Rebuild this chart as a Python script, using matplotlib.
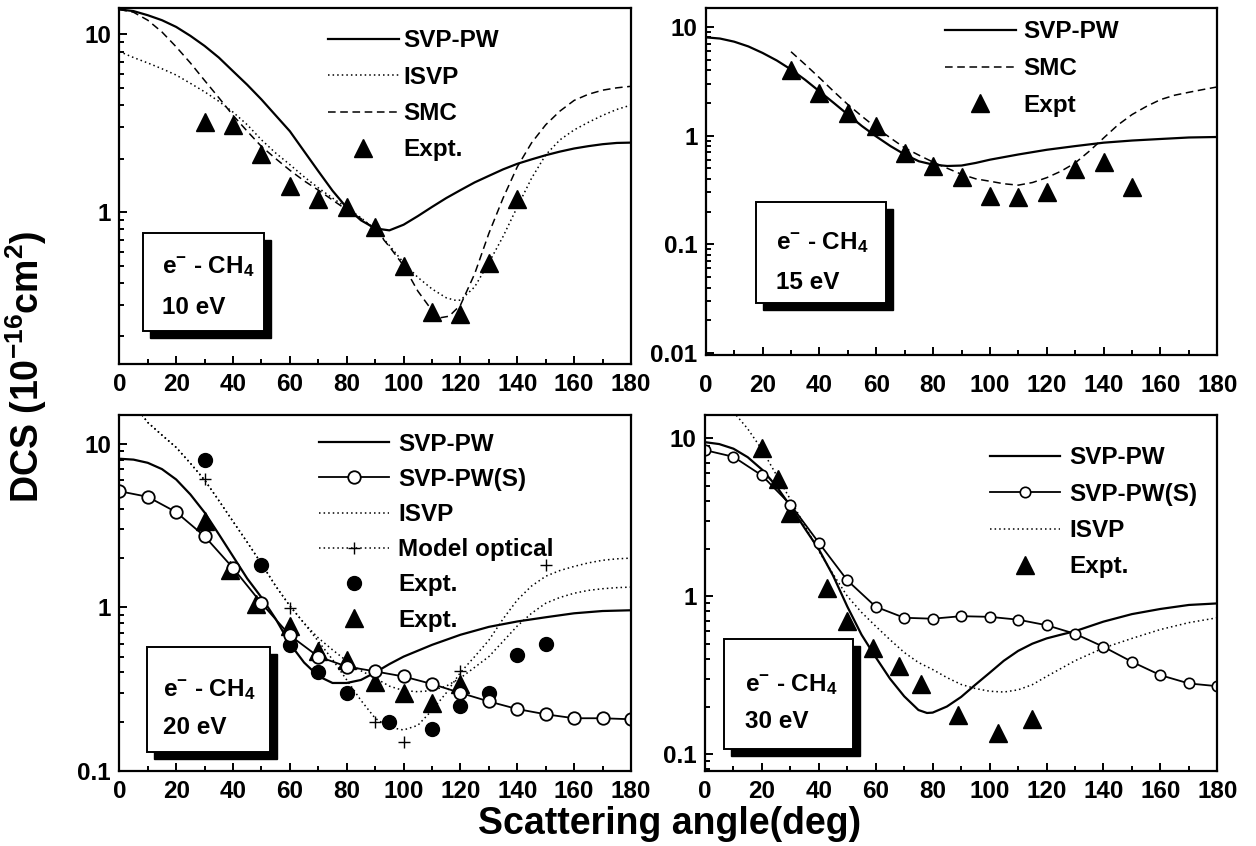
import matplotlib
matplotlib.use('Agg')
import matplotlib.pyplot as plt
from matplotlib.lines import Line2D
from matplotlib.patches import Rectangle
from matplotlib.ticker import FuncFormatter, LogLocator, MultipleLocator, NullFormatter

plt.rcParams['font.family'] = ['Liberation Sans', 'DejaVu Sans']
plt.rcParams['font.weight'] = 'bold'
plt.rcParams['mathtext.fontset'] = 'custom'
plt.rcParams['mathtext.rm'] = 'Liberation Sans:bold'
plt.rcParams['mathtext.it'] = 'Liberation Sans:bold'
plt.rcParams['mathtext.bf'] = 'Liberation Sans:bold'

# ---- 10 eV ----
a10_svp = [0, 5, 10, 15, 20, 25, 30, 35, 40, 45, 50, 55, 60, 65, 70, 75, 80, 85, 90, 95,
           100, 105, 110, 115, 120, 125, 130, 135, 140, 145, 150, 155, 160, 165, 170, 175, 180]
dcs10_svp = [13.8, 13.5, 12.8, 12.0, 11.0, 9.8, 8.6, 7.4, 6.2, 5.2, 4.3, 3.5, 2.85, 2.2, 1.7, 1.32,
             1.06, 0.9, 0.81, 0.79, 0.85, 0.95, 1.07, 1.2, 1.33, 1.47, 1.6, 1.74, 1.87, 1.98,
             2.09, 2.19, 2.28, 2.35, 2.41, 2.45, 2.46]
a10_isvp = [0, 5, 10, 15, 20, 25, 30, 35, 40, 45, 50, 55, 60, 65, 70, 75, 80, 85, 90, 95,
            100, 105, 110, 115, 118, 120, 125, 130, 135, 140, 145, 150, 155, 160, 165, 170, 175, 180]
dcs10_isvp = [8.0, 7.4, 6.9, 6.4, 5.9, 5.3, 4.75, 4.2, 3.65, 3.1, 2.55, 2.15, 1.85, 1.58, 1.37,
              1.2, 1.06, 0.93, 0.8, 0.65, 0.52, 0.43, 0.37, 0.33, 0.32, 0.32, 0.38, 0.52, 0.73,
              1.07, 1.55, 2.1, 2.55, 2.9, 3.2, 3.5, 3.78, 4.0]
a10_smc = [0, 5, 10, 15, 20, 25, 30, 35, 40, 45, 50, 55, 60, 65, 70, 75, 80, 85, 90, 95,
           100, 105, 110, 113, 116, 120, 125, 130, 135, 140, 145, 150, 155, 160, 165, 170, 175, 180]
dcs10_smc = [13.8, 13.3, 12.0, 10.3, 8.5, 6.9, 5.5, 4.4, 3.5, 2.85, 2.34, 2.0, 1.72, 1.5, 1.33,
             1.17, 1.03, 0.92, 0.8, 0.64, 0.5, 0.36, 0.28, 0.255, 0.26, 0.3, 0.45, 0.76, 1.2,
             1.8, 2.45, 3.1, 3.7, 4.25, 4.6, 4.85, 5.0, 5.1]
a10_exp = [30, 40, 50, 60, 70, 80, 90, 100, 110, 120, 130, 140]
dcs10_exp = [3.2, 3.1, 2.12, 1.4, 1.18, 1.07, 0.82, 0.5, 0.274, 0.268, 0.52, 1.19]

# ---- 15 eV ----
a15_svp = [0, 5, 10, 15, 20, 25, 30, 35, 40, 45, 50, 55, 60, 65, 70, 75, 80, 85, 90, 95,
           100, 110, 120, 130, 140, 150, 160, 170, 180]
dcs15_svp = [8.0, 7.8, 7.3, 6.6, 5.75, 4.9, 4.05, 3.25, 2.55, 2.0, 1.56, 1.22, 0.98, 0.8, 0.67,
             0.58, 0.54, 0.525, 0.53, 0.56, 0.6, 0.67, 0.74, 0.8, 0.86, 0.9, 0.93, 0.96, 0.97]
a15_smc = [30, 35, 40, 45, 50, 55, 60, 65, 70, 75, 80, 85, 90, 95, 100, 105, 110, 115, 120,
           125, 130, 135, 140, 145, 150, 155, 160, 165, 170, 175, 180]
dcs15_smc = [5.9, 4.5, 3.4, 2.55, 1.93, 1.5, 1.18, 0.95, 0.77, 0.66, 0.57, 0.5, 0.44, 0.4, 0.38,
             0.36, 0.35, 0.37, 0.41, 0.47, 0.56, 0.72, 0.95, 1.25, 1.56, 1.85, 2.14, 2.35, 2.5,
             2.65, 2.8]
a15_exp = [30, 40, 50, 60, 70, 80, 90, 100, 110, 120, 130, 140, 150]
dcs15_exp = [4.04, 2.47, 1.62, 1.22, 0.69, 0.53, 0.42, 0.277, 0.27, 0.3, 0.49, 0.57, 0.34]

# ---- 20 eV ----
a20_svp = [0, 5, 10, 15, 20, 25, 30, 35, 40, 45, 50, 55, 60, 65, 70, 75, 80, 85, 90, 95,
           100, 110, 120, 130, 140, 150, 160, 170, 180]
dcs20_svp = [8.1, 8.0, 7.65, 7.0, 6.05, 4.9, 3.8, 2.8, 2.05, 1.5, 1.15, 0.85, 0.6, 0.46, 0.38,
             0.345, 0.345, 0.36, 0.4, 0.45, 0.5, 0.59, 0.68, 0.76, 0.82, 0.87, 0.92, 0.95, 0.96]
a20_svps = [0, 10, 20, 30, 40, 50, 60, 70, 80, 90, 100, 110, 120, 130, 140, 150, 160, 170, 180]
dcs20_svps = [5.13, 4.74, 3.82, 2.72, 1.74, 1.06, 0.674, 0.5, 0.435, 0.406, 0.378, 0.34, 0.30,
              0.266, 0.239, 0.222, 0.21, 0.21, 0.207]
a20_isvp = [8, 10, 15, 20, 25, 30, 35, 40, 45, 50, 55, 60, 65, 70, 75, 80, 85, 90, 95, 100,
            105, 110, 115, 120, 125, 130, 135, 140, 145, 150, 155, 160, 165, 170, 175, 180]
dcs20_isvp = [15.0, 13.5, 11.3, 9.5, 7.6, 6.0, 4.5, 3.35, 2.5, 1.85, 1.35, 1.02, 0.8, 0.65,
              0.55, 0.47, 0.41, 0.37, 0.33, 0.31, 0.305, 0.31, 0.33, 0.37, 0.43, 0.5, 0.62,
              0.77, 0.92, 1.06, 1.15, 1.22, 1.27, 1.3, 1.32, 1.33]
a20_mo = [8, 10, 15, 20, 25, 30, 35, 40, 45, 50, 55, 60, 65, 70, 75, 80, 85, 90, 95, 100,
          105, 110, 115, 120, 125, 130, 135, 140, 145, 150, 155, 160, 165, 170, 175, 180]
dcs20_mo = [15.0, 13.5, 11.3, 9.5, 7.6, 6.0, 4.5, 3.35, 2.5, 1.85, 1.35, 1.02, 0.8, 0.62, 0.48,
            0.36, 0.27, 0.21, 0.185, 0.178, 0.19, 0.235, 0.3, 0.4, 0.5, 0.63, 0.85, 1.11, 1.35,
            1.55, 1.68, 1.78, 1.87, 1.94, 1.98, 2.0]
a20_mo_pts = [30, 60, 90, 100, 120, 150]
dcs20_mo_pts = [6.05, 0.99, 0.2, 0.151, 0.406, 1.81]
a20_exp_c = [30, 50, 60, 70, 80, 95, 110, 120, 130, 140, 150]
dcs20_exp_c = [8.0, 1.81, 0.59, 0.40, 0.30, 0.20, 0.18, 0.25, 0.30, 0.51, 0.60]
a20_exp_t = [30, 39, 48, 60, 70, 80, 90, 100, 110, 120]
dcs20_exp_t = [3.36, 1.7, 1.05, 0.77, 0.54, 0.48, 0.35, 0.30, 0.26, 0.34]

# ---- 30 eV ----
a30_svp = [0, 5, 10, 15, 20, 25, 30, 35, 40, 45, 50, 55, 60, 65, 70, 75, 78, 80, 85, 90, 95,
           100, 105, 110, 115, 120, 125, 130, 140, 150, 160, 170, 180]
dcs30_svp = [9.46, 9.2, 8.6, 7.6, 6.35, 5.0, 3.72, 2.7, 1.98, 1.35, 0.86, 0.57, 0.41, 0.3,
             0.232, 0.19, 0.182, 0.183, 0.2, 0.23, 0.275, 0.327, 0.39, 0.45, 0.5, 0.54, 0.57,
             0.6, 0.69, 0.77, 0.83, 0.88, 0.9]
a30_svps = [0, 10, 20, 30, 40, 50, 60, 70, 80, 90, 100, 110, 120, 130, 140, 150, 160, 170, 180]
dcs30_svps = [8.42, 7.64, 5.82, 3.81, 2.18, 1.26, 0.857, 0.73, 0.72, 0.747, 0.74, 0.71, 0.655,
              0.578, 0.478, 0.384, 0.316, 0.28, 0.269]
a30_isvp = [11, 15, 20, 25, 30, 35, 40, 45, 50, 55, 60, 65, 70, 75, 80, 85, 90, 95, 100, 105,
            110, 115, 120, 130, 140, 150, 160, 170, 180]
dcs30_isvp = [14.0, 11.5, 8.5, 5.9, 4.1, 2.8, 1.93, 1.38, 1.0, 0.79, 0.645, 0.53, 0.44, 0.38,
              0.343, 0.305, 0.276, 0.26, 0.25, 0.247, 0.255, 0.275, 0.31, 0.39, 0.47, 0.54,
              0.615, 0.68, 0.73]
a30_exp = [20, 25.8, 30, 42.8, 50, 59, 68, 76, 89, 103, 115]
dcs30_exp = [8.7, 5.5, 3.38, 1.13, 0.7, 0.47, 0.36, 0.276, 0.178, 0.136, 0.166]

SOLID = dict(color='black', lw=1.6, ls='-')
DOT = dict(color='black', lw=1.1, ls=(0, (1, 2)))
DASH = dict(color='black', lw=1.1, ls=(0, (5, 3)))
TRI = dict(color='black', marker='^', ms=13, ls='none')


def fmt_log(v, pos):
    return '%g' % v


def style_axes(ax, ylim, xpad):
    ax.set_xlim(0, 180)
    ax.set_yscale('log')
    ax.set_ylim(*ylim)
    ax.xaxis.set_major_locator(MultipleLocator(20))
    ax.xaxis.set_minor_locator(MultipleLocator(10))
    ax.yaxis.set_major_locator(LogLocator(base=10, numticks=10))
    ax.yaxis.set_minor_locator(LogLocator(base=10, subs=range(2, 10), numticks=10))
    ax.yaxis.set_major_formatter(FuncFormatter(fmt_log))
    ax.yaxis.set_minor_formatter(NullFormatter())
    ax.tick_params(which='both', direction='in', top=False, right=False, width=1.4, labelsize=17.5)
    ax.tick_params(which='major', length=5.5)
    ax.tick_params(which='minor', length=3.5)
    ax.tick_params(axis='x', pad=xpad)
    ax.tick_params(axis='y', pad=6)
    for lab in ax.get_xticklabels() + ax.get_yticklabels():
        lab.set_fontweight('bold')
    for sp in ax.spines.values():
        sp.set_linewidth(1.6)


def label_box(ax, x0, y0, x1, y1, tx, ty1, ty2, energy):
    fig_w, fig_h = ax.figure.get_size_inches() * ax.figure.dpi
    bb = ax.get_position()
    dx = 7 / (bb.width * fig_w)
    dy = 7 / (bb.height * fig_h)
    ax.add_patch(Rectangle((x0 + dx, y0 - dy), x1 - x0, y1 - y0, transform=ax.transAxes,
                           facecolor='black', edgecolor='black', zorder=6, clip_on=False))
    ax.add_patch(Rectangle((x0, y0), x1 - x0, y1 - y0, transform=ax.transAxes,
                           facecolor='white', edgecolor='black', lw=1.4, zorder=7, clip_on=False))
    ax.text(tx, ty1, r'e$^{-}$ - CH$_{4}$', transform=ax.transAxes, fontsize=17.5,
            fontweight='bold', va='center', ha='left', zorder=8)
    ax.text(tx, ty2, energy, transform=ax.transAxes, fontsize=17.5,
            fontweight='bold', va='center', ha='left', zorder=8)


def add_legend(ax, handles, labels, x, y, tpad, spacing):
    leg = ax.legend(handles, labels, loc='upper left', bbox_to_anchor=(x, y), frameon=False,
                    borderpad=0, borderaxespad=0, handlelength=2.9, handletextpad=tpad,
                    labelspacing=spacing, numpoints=1, prop={'size': 17.5, 'weight': 'bold'})
    leg.set_zorder(9)
    return leg


fig = plt.figure(figsize=(12.56, 8.46), dpi=100)
ax1 = fig.add_axes([0.095, 0.5697, 0.4074, 0.4205])
ax2 = fig.add_axes([0.5619, 0.5804, 0.4073, 0.4098])
ax3 = fig.add_axes([0.095, 0.0887, 0.4074, 0.4208])
ax4 = fig.add_axes([0.5613, 0.0890, 0.4079, 0.4204])

# 10 eV
ax1.plot(a10_svp, dcs10_svp, **SOLID)
ax1.plot(a10_isvp, dcs10_isvp, **DOT)
ax1.plot(a10_smc, dcs10_smc, **DASH)
ax1.plot(a10_exp, dcs10_exp, **TRI)
style_axes(ax1, (0.14, 14), 6.5)
add_legend(ax1,
           [Line2D([], [], **SOLID), Line2D([], [], **DOT), Line2D([], [], **DASH),
            Line2D([], [], **TRI)],
           ['SVP-PW', 'ISVP', 'SMC', 'Expt.'], 0.408, 0.941, 0.2, 0.55)
label_box(ax1, 0.0457, 0.0928, 0.282, 0.368, 0.083, 0.273, 0.16, '10 eV')

# 15 eV
ax2.plot(a15_svp, dcs15_svp, **SOLID)
ax2.plot(a15_smc, dcs15_smc, **DASH)
ax2.plot(a15_exp, dcs15_exp, **TRI)
style_axes(ax2, (0.0096, 14.8), 13.5)
add_legend(ax2,
           [Line2D([], [], **SOLID), Line2D([], [], **DASH), Line2D([], [], **TRI)],
           ['SVP-PW', 'SMC', 'Expt'], 0.468, 0.965, 0.33, 0.56)
label_box(ax2, 0.0983, 0.15, 0.3524, 0.441, 0.137, 0.323, 0.208, '15 eV')

# 20 eV
OPEN = dict(color='black', marker='o', ms=9, mfc='white', mec='black', mew=1.3, lw=1.3)
PLUS = dict(color='black', marker='+', ms=8, mew=1.0, ls='none')
CIRC = dict(color='black', marker='o', ms=10, ls='none')
ax3.plot(a20_svp, dcs20_svp, **SOLID)
ax3.plot(a20_isvp, dcs20_isvp, **DOT)
ax3.plot(a20_mo, dcs20_mo, **DOT)
ax3.plot(a20_mo_pts, dcs20_mo_pts, **PLUS)
ax3.plot(a20_exp_c, dcs20_exp_c, **CIRC)
ax3.plot(a20_exp_t, dcs20_exp_t, **TRI)
ax3.plot(a20_svps, dcs20_svps, **OPEN)
style_axes(ax3, (0.1, 15), 6.5)
add_legend(ax3,
           [Line2D([], [], **SOLID), Line2D([], [], **OPEN), Line2D([], [], **DOT),
            Line2D([], [], marker='+', ms=8, mew=1.0, color='black', lw=1.1, ls=(0, (1, 2))),
            Line2D([], [], **CIRC), Line2D([], [], **TRI)],
           ['SVP-PW', 'SVP-PW(S)', 'ISVP', 'Model optical', 'Expt.', 'Expt.'],
           0.390, 0.950, 0.36, 0.5)
label_box(ax3, 0.0547, 0.054, 0.2945, 0.347, 0.085, 0.2275, 0.121, '20 eV')

# 30 eV
OPEN_S = dict(color='black', marker='o', ms=7.5, mfc='white', mec='black', mew=1.2, lw=1.3)
ax4.plot(a30_svp, dcs30_svp, **SOLID)
ax4.plot(a30_isvp, dcs30_isvp, **DOT)
ax4.plot(a30_exp, dcs30_exp, **TRI)
ax4.plot(a30_svps, dcs30_svps, **OPEN_S)
style_axes(ax4, (0.0784, 14.05), 6.5)
add_legend(ax4,
           [Line2D([], [], **SOLID), Line2D([], [], **OPEN_S), Line2D([], [], **DOT),
            Line2D([], [], **TRI)],
           ['SVP-PW', 'SVP-PW(S)', 'ISVP', 'Expt.'], 0.556, 0.912, 0.36, 0.55)
label_box(ax4, 0.0377, 0.06, 0.288, 0.369, 0.078, 0.241, 0.138, '30 eV')

fig.text(0.021, 0.566, r'DCS (10$^{-16}$cm$^{2}$)', rotation=90, ha='center', va='center',
         fontsize=27, fontweight='bold')
fig.text(0.533, 0.026, 'Scattering angle(deg)', ha='center', va='center',
         fontsize=27, fontweight='bold')

fig.savefig('out.png', dpi=100)
